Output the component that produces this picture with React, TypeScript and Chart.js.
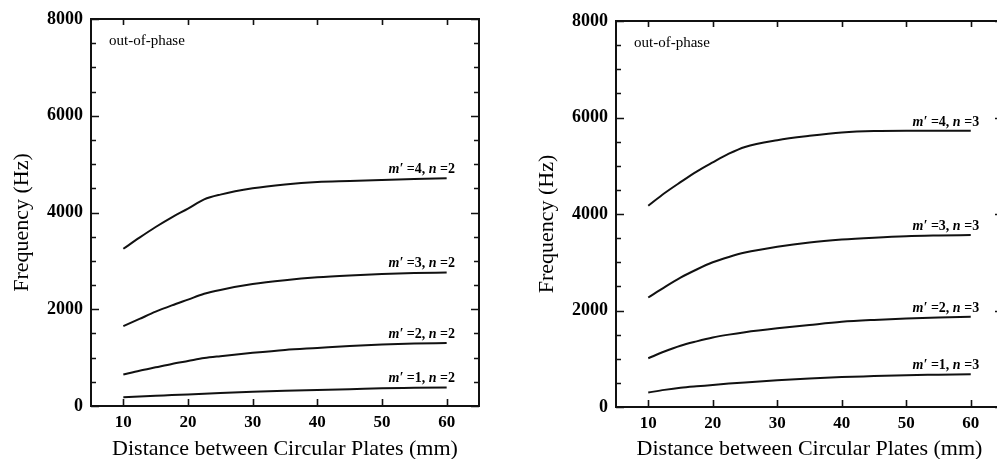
import React, { useEffect, useRef } from "react";
import { Chart, registerables } from "chart.js";
Chart.register(...registerables);

const distances = [10, 12.5, 15, 17.5, 20, 22.5, 25, 30, 35, 40, 45, 50, 55, 60];

// Left panel: n = 2
const n2_m1 = [180, 195, 210, 225, 240, 255, 270, 295, 315, 330, 345, 365, 375, 385];
const n2_m2 = [650, 730, 800, 870, 930, 990, 1030, 1100, 1160, 1200, 1240, 1270, 1290, 1300];
const n2_m3 = [1650, 1800, 1950, 2080, 2200, 2320, 2400, 2520, 2600, 2660, 2700, 2730, 2750, 2760];
const n2_m4 = [3250, 3480, 3700, 3900, 4080, 4270, 4370, 4500, 4580, 4630, 4650, 4670, 4690, 4710];

// Right panel: n = 3
const n3_m1 = [300, 355, 400, 430, 455, 485, 510, 555, 590, 620, 640, 660, 670, 680];
const n3_m2 = [1010, 1150, 1270, 1360, 1440, 1500, 1550, 1630, 1700, 1765, 1805, 1835, 1855, 1870];
const n3_m3 = [2270, 2480, 2680, 2850, 3000, 3110, 3200, 3320, 3410, 3470, 3510, 3540, 3555, 3565];
const n3_m4 = [4170, 4430, 4660, 4880, 5070, 5250, 5390, 5530, 5620, 5690, 5720, 5725, 5725, 5725];

const modeM = [1, 2, 3, 4];
const xTickValues = [10, 20, 30, 40, 50, 60];
const yTickValues = [0, 2000, 4000, 6000, 8000];
const yMinorStep = 500;
const xMin = 5;
const xMax = 65;
const yMin = 0;
const yMax = 8000;
const phaseLabel = "out-of-phase";
const xTitle = "Distance between Circular Plates (mm)";
const yTitle = "Frequency (Hz)";
const labelXValue = 61.3;

const SERIF = "'Liberation Serif', 'DejaVu Serif', serif";
const INK = "#111";

type PanelCfg = {
  n: number;
  series: number[][];
  yWidth: number;
  xHeight: number;
  padTop: number;
  padRight: number;
  width: number;
  left: number;
};

function makeDecorPlugin(n: number) {
  return {
    id: "decor" + n,
    afterDraw(chart: any) {
      const ctx = chart.ctx as CanvasRenderingContext2D;
      const a = chart.chartArea;
      const xs = chart.scales.x;
      const ys = chart.scales.y;
      ctx.save();
      ctx.strokeStyle = INK;
      ctx.lineWidth = 2;
      ctx.strokeRect(a.left, a.top, a.right - a.left, a.bottom - a.top);
      ctx.lineWidth = 1.6;
      // x ticks bottom & top
      for (const v of xTickValues) {
        const px = Math.round(xs.getPixelForValue(v)) + 0.5;
        ctx.beginPath();
        ctx.moveTo(px, a.bottom);
        ctx.lineTo(px, a.bottom - 7);
        ctx.moveTo(px, a.top);
        ctx.lineTo(px, a.top + 6);
        ctx.stroke();
      }
      // y ticks left & right
      for (let v = yMin; v <= yMax; v += yMinorStep) {
        const py = Math.round(ys.getPixelForValue(v)) + 0.5;
        const len = v % 2000 === 0 ? 8 : 5;
        ctx.beginPath();
        ctx.moveTo(a.left, py);
        ctx.lineTo(a.left + len, py);
        ctx.moveTo(a.right, py);
        ctx.lineTo(a.right - len, py);
        ctx.stroke();
      }
      // curve labels
      const size = 14;
      const rightX = xs.getPixelForValue(labelXValue);
      chart.data.datasets.forEach((ds: any, i: number) => {
        const meta = chart.getDatasetMeta(i);
        const last = meta.data[meta.data.length - 1];
        const baseY = last.y - 5;
        const segs = [
          { t: "m′", it: true },
          { t: " =" + modeM[i] + ", ", it: false },
          { t: "n", it: true },
          { t: " =" + n, it: false },
        ];
        let total = 0;
        for (const s of segs) {
          ctx.font = (s.it ? "italic " : "") + "bold " + size + "px " + SERIF;
          total += ctx.measureText(s.t).width;
        }
        let x = rightX - total;
        ctx.fillStyle = "#000";
        ctx.textBaseline = "alphabetic";
        ctx.textAlign = "left";
        for (const s of segs) {
          ctx.font = (s.it ? "italic " : "") + "bold " + size + "px " + SERIF;
          ctx.fillText(s.t, x, baseY);
          x += ctx.measureText(s.t).width;
        }
      });
      // out-of-phase
      ctx.font = "15px " + SERIF;
      ctx.textAlign = "left";
      ctx.textBaseline = "middle";
      ctx.fillText(phaseLabel, a.left + 18, a.top + 22);
      // axis titles
      ctx.font = "22px " + SERIF;
      ctx.textAlign = "center";
      ctx.textBaseline = "middle";
      ctx.fillText(xTitle, (a.left + a.right) / 2, 449);
      ctx.save();
      ctx.translate(a.left - 69, (a.top + a.bottom) / 2 + 10);
      ctx.rotate(-Math.PI / 2);
      ctx.fillText(yTitle, 0, 0);
      ctx.restore();
      ctx.restore();
    },
  };
}

function Panel({ cfg }: { cfg: PanelCfg }) {
  const ref = useRef<HTMLCanvasElement | null>(null);
  useEffect(() => {
    if (!ref.current) return;
    const chart = new Chart(ref.current, {
      type: "line",
      data: {
        datasets: cfg.series.map((vals, i) => ({
          label: "m'=" + modeM[i] + ", n=" + cfg.n,
          data: distances.map((d, j) => ({ x: d, y: vals[j] })),
          borderColor: INK,
          borderWidth: 2,
          pointRadius: 0,
          fill: false,
          cubicInterpolationMode: "monotone" as const,
        })),
      },
      options: {
        responsive: false,
        animation: false,
        devicePixelRatio: 1,
        layout: { padding: { top: cfg.padTop, right: cfg.padRight, left: 0, bottom: 0 } },
        plugins: { legend: { display: false }, tooltip: { enabled: false } },
        scales: {
          x: {
            type: "linear",
            min: xMin,
            max: xMax,
            grid: { display: false, drawTicks: false },
            border: { display: false },
            afterBuildTicks: (s: any) => {
              s.ticks = xTickValues.map((v) => ({ value: v }));
            },
            afterFit: (s: any) => {
              s.height = cfg.xHeight;
            },
            ticks: {
              color: "#000",
              padding: 6,
              maxRotation: 0,
              callback: (v: any) => String(v),
              font: { family: SERIF, size: 17, weight: "bold" },
            },
          },
          y: {
            type: "linear",
            min: yMin,
            max: yMax,
            grid: { display: false, drawTicks: false },
            border: { display: false },
            afterBuildTicks: (s: any) => {
              s.ticks = yTickValues.map((v) => ({ value: v }));
            },
            afterFit: (s: any) => {
              s.width = cfg.yWidth;
            },
            ticks: {
              color: "#000",
              padding: 8,
              callback: (v: any) => String(v),
              font: { family: SERIF, size: 18, weight: "bold" },
            },
          },
        },
      },
      plugins: [makeDecorPlugin(cfg.n)],
    } as any);
    return () => chart.destroy();
  }, []);
  return (
    <canvas
      ref={ref}
      width={cfg.width}
      height={459}
      style={{ position: "absolute", left: cfg.left, top: 0, width: cfg.width, height: 459 }}
    />
  );
}

const leftCfg: PanelCfg = {
  n: 2,
  series: [n2_m1, n2_m2, n2_m3, n2_m4],
  yWidth: 91,
  xHeight: 53,
  padTop: 19,
  padRight: 21,
  width: 500,
  left: 0,
};
const rightCfg: PanelCfg = {
  n: 3,
  series: [n3_m1, n3_m2, n3_m3, n3_m4],
  yWidth: 116,
  xHeight: 52,
  padTop: 21,
  padRight: 17,
  width: 520,
  left: 500,
};

export default function App() {
  return (
    <div
      style={{
        position: "fixed",
        left: 0,
        top: 0,
        width: 997,
        height: 459,
        overflow: "hidden",
        background: "#fff",
      }}
    >
      <Panel cfg={leftCfg} />
      <Panel cfg={rightCfg} />
    </div>
  );
}
